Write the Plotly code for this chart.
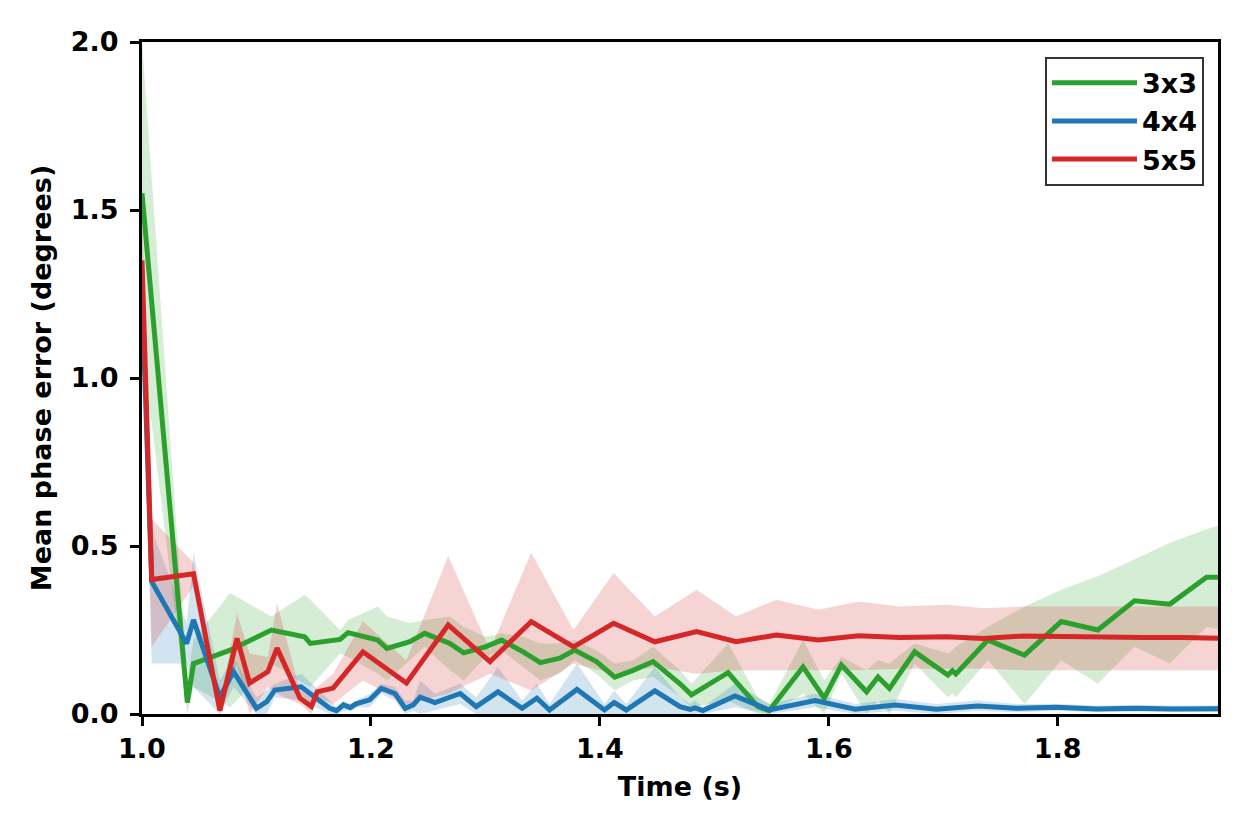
import plotly.graph_objects as go

# ---- data: 3x3 ----
t_3x3 = [1.000, 1.0396, 1.045, 1.077, 1.113, 1.142, 1.147, 1.173, 1.180, 1.206, 1.214, 1.234, 1.247,
         1.269, 1.281, 1.300, 1.314, 1.333, 1.348, 1.365, 1.378, 1.397, 1.413, 1.429, 1.4465, 1.470,
         1.480, 1.512, 1.538, 1.548, 1.5775, 1.596, 1.611, 1.633, 1.643, 1.653, 1.675, 1.704, 1.708,
         1.711, 1.739, 1.771, 1.803, 1.835, 1.867, 1.898, 1.930, 1.945]
m_3x3 = [1.55, 0.034, 0.15, 0.19, 0.25, 0.23, 0.21, 0.222, 0.242, 0.22, 0.195, 0.215, 0.24,
         0.21, 0.182, 0.20, 0.22, 0.185, 0.153, 0.166, 0.19, 0.156, 0.11, 0.13, 0.156, 0.09,
         0.057, 0.123, 0.022, 0.01, 0.14, 0.047, 0.146, 0.066, 0.11, 0.076, 0.185, 0.116, 0.129,
         0.119, 0.22, 0.175, 0.275, 0.25, 0.337, 0.327, 0.407, 0.407]
lo_3x3 = [1.10, 0.00, 0.08, 0.02, 0.15, 0.09, 0.08, 0.18, 0.17, 0.12, 0.10, 0.16, 0.20,
          0.13, 0.10, 0.17, 0.19, 0.14, 0.10, 0.12, 0.16, 0.12, 0.07, 0.10, 0.11, 0.05,
          0.02, 0.04, 0.00, 0.00, 0.06, 0.00, 0.12, 0.00, 0.04, 0.00, 0.15, 0.05, 0.06,
          0.05, 0.16, 0.03, 0.16, 0.09, 0.20, 0.15, 0.26, 0.25]
hi_3x3 = [2.00, 0.10, 0.22, 0.36, 0.29, 0.355, 0.34, 0.25, 0.28, 0.32, 0.29, 0.27, 0.28,
          0.29, 0.26, 0.23, 0.24, 0.23, 0.21, 0.21, 0.22, 0.19, 0.15, 0.16, 0.20, 0.13,
          0.09, 0.21, 0.05, 0.03, 0.22, 0.10, 0.17, 0.13, 0.16, 0.15, 0.21, 0.18, 0.19,
          0.20, 0.26, 0.32, 0.37, 0.41, 0.46, 0.51, 0.55, 0.565]

# ---- data: 4x4 ----
t_4x4 = [1.000, 1.0085, 1.039, 1.045, 1.068, 1.080, 1.100, 1.109, 1.116, 1.139, 1.164, 1.170, 1.176,
         1.182, 1.187, 1.199, 1.209, 1.221, 1.230, 1.237, 1.243, 1.256, 1.278, 1.292, 1.311, 1.332,
         1.345, 1.356, 1.380, 1.404, 1.4125, 1.423, 1.448, 1.470, 1.479, 1.483, 1.490, 1.518, 1.548,
         1.588, 1.623, 1.658, 1.694, 1.730, 1.764, 1.799, 1.834, 1.869, 1.900, 1.945]
m_4x4 = [1.25, 0.394, 0.21, 0.28, 0.05, 0.126, 0.017, 0.037, 0.071, 0.081, 0.017, 0.01, 0.027,
         0.019, 0.03, 0.042, 0.076, 0.061, 0.017, 0.027, 0.05, 0.034, 0.061, 0.022, 0.066, 0.017,
         0.047, 0.012, 0.073, 0.012, 0.034, 0.012, 0.069, 0.022, 0.014, 0.018, 0.01, 0.054, 0.012,
         0.04, 0.014, 0.027, 0.014, 0.024, 0.017, 0.02, 0.015, 0.017, 0.015, 0.016]
lo_4x4 = [1.15, 0.15, 0.15, 0.08, 0.00, 0.08, 0.00, 0.00, 0.05, 0.04, 0.00, 0.00, 0.01,
          0.01, 0.02, 0.02, 0.06, 0.04, 0.00, 0.01, 0.00, 0.01, 0.03, 0.00, 0.00, 0.00,
          0.00, 0.00, 0.00, 0.00, 0.00, 0.00, 0.00, 0.00, 0.00, 0.00, 0.00, 0.02, 0.00,
          0.02, 0.00, 0.01, 0.00, 0.01, 0.005, 0.01, 0.005, 0.007, 0.005, 0.006]
hi_4x4 = [1.35, 0.55, 0.27, 0.48, 0.10, 0.17, 0.05, 0.07, 0.09, 0.12, 0.04, 0.02, 0.04,
          0.03, 0.04, 0.06, 0.09, 0.08, 0.04, 0.04, 0.10, 0.06, 0.09, 0.05, 0.14, 0.04,
          0.09, 0.03, 0.15, 0.03, 0.07, 0.03, 0.14, 0.05, 0.03, 0.04, 0.02, 0.09, 0.03,
          0.06, 0.03, 0.045, 0.03, 0.04, 0.03, 0.03, 0.025, 0.027, 0.025, 0.026]

# ---- data: 5x5 ----
t_5x5 = [1.000, 1.0085, 1.045, 1.068, 1.083, 1.094, 1.110, 1.118, 1.138, 1.148, 1.153, 1.167, 1.193,
         1.231, 1.2675, 1.304, 1.340, 1.377, 1.412, 1.448, 1.4845, 1.519, 1.554, 1.591, 1.626, 1.662,
         1.703, 1.735, 1.770, 1.805, 1.840, 1.875, 1.910, 1.945]
m_5x5 = [1.35, 0.40, 0.417, 0.01, 0.225, 0.092, 0.126, 0.196, 0.047, 0.022, 0.066, 0.077, 0.185,
         0.092, 0.265, 0.156, 0.275, 0.20, 0.27, 0.215, 0.245, 0.215, 0.235, 0.22, 0.233, 0.228,
         0.23, 0.225, 0.232, 0.23, 0.23, 0.228, 0.228, 0.225]
lo_5x5 = [1.20, 0.20, 0.38, 0.00, 0.15, 0.00, 0.08, 0.06, 0.03, 0.00, 0.05, 0.03, 0.10,
          0.03, 0.06, 0.12, 0.07, 0.15, 0.12, 0.14, 0.12, 0.13, 0.13, 0.13, 0.13, 0.135,
          0.135, 0.135, 0.13, 0.13, 0.13, 0.13, 0.13, 0.13]
hi_5x5 = [1.50, 0.58, 0.45, 0.03, 0.30, 0.18, 0.17, 0.33, 0.07, 0.05, 0.08, 0.12, 0.275,
          0.16, 0.47, 0.19, 0.48, 0.25, 0.42, 0.29, 0.37, 0.29, 0.34, 0.31, 0.335, 0.32,
          0.325, 0.315, 0.32, 0.32, 0.32, 0.32, 0.32, 0.32]

x_ticks = [1.0, 1.2, 1.4, 1.6, 1.8]
y_ticks = [0.0, 0.5, 1.0, 1.5, 2.0]

series = [
    ("3x3", t_3x3, m_3x3, lo_3x3, hi_3x3, "#2ca02c", "rgba(44,160,44,0.2)"),
    ("4x4", t_4x4, m_4x4, lo_4x4, hi_4x4, "#1f77b4", "rgba(31,119,180,0.2)"),
    ("5x5", t_5x5, m_5x5, lo_5x5, hi_5x5, "#d62728", "rgba(214,39,40,0.2)"),
]

fig = go.Figure()
for name, t, m, lo, hi, col, fcol in series:
    fig.add_trace(go.Scatter(
        x=list(t) + list(t)[::-1], y=list(hi) + list(lo)[::-1],
        fill="toself", fillcolor=fcol, line=dict(width=0), mode="lines",
        hoverinfo="skip", showlegend=False))
for name, t, m, lo, hi, col, fcol in series:
    fig.add_trace(go.Scatter(x=t, y=m, mode="lines", name=name,
                             line=dict(color=col, width=5)))

FS = 27
font = dict(family="DejaVu Sans", size=FS, color="black", weight="bold")

axis_common = dict(showgrid=False, zeroline=False, showline=True, mirror=True,
                   linecolor="black", linewidth=3, ticks="outside", ticklen=9,
                   tickwidth=3, tickcolor="black", tickformat=".1f",
                   tickfont=dict(family="DejaVu Sans", size=FS, color="black", weight="bold"))

fig.update_layout(
    width=1249, height=833,
    margin=dict(l=142, r=31, t=42, b=119),
    paper_bgcolor="white", plot_bgcolor="white",
    font=font,
    showlegend=True,
    legend=dict(x=0.987, y=0.978, xanchor="right", yanchor="top",
                bgcolor="white", bordercolor="#333333", borderwidth=2,
                font=dict(family="DejaVu Sans", size=FS, color="black", weight="bold"),
                itemwidth=85),
    xaxis=dict(range=[1.0, 1.94], tickvals=x_ticks, ticklabelstandoff=0,
               title=dict(text="Time (s)", font=dict(family="DejaVu Sans", size=FS, weight="bold"),
                          standoff=14),
               **axis_common),
    yaxis=dict(range=[0, 2.0], tickvals=y_ticks, ticklabelstandoff=6,
               title=dict(text="Mean phase error (degrees)",
                          font=dict(family="DejaVu Sans", size=FS, weight="bold"), standoff=12),
               **axis_common),
)

fig.write_html("out.html")
